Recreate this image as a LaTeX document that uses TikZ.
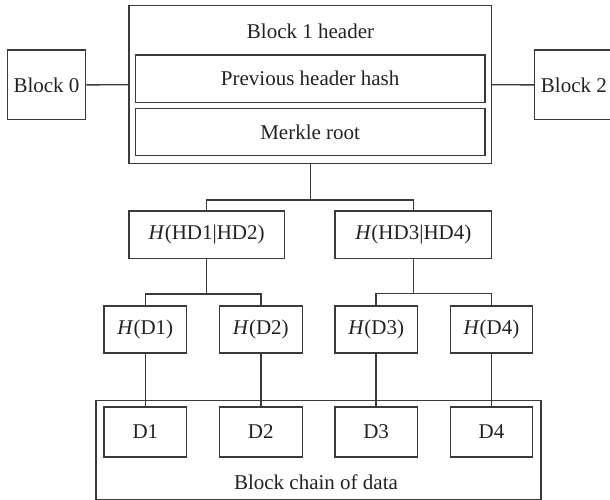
\documentclass[tikz,border=0pt]{standalone}
\usepackage{fontspec}
\setmainfont{Liberation Serif}
\definecolor{linegray}{HTML}{3A3A3A}
\definecolor{textgray}{HTML}{222222}
\begin{document}
\begin{tikzpicture}[x=1pt,y=-1pt,
  box/.style={draw=linegray, line width=1.4pt, rectangle, inner sep=0pt,
    text=textgray, font=\fontsize{21}{25}\selectfont},
  lbl/.style={inner sep=0pt, text=textgray, font=\fontsize{21}{25}\selectfont},
  wire/.style={draw=linegray, line width=1.4pt}]
\useasboundingbox (0,0) rectangle (610,500);

% block header with its two fields
\node[box, minimum width=362.5pt, minimum height=158pt] (b1) at (310.25,84.7) {};
\node[lbl] (b1t) at (310.5,31) {Block 1 header};
\node[box, minimum width=349.7pt, minimum height=47.3pt] (prev) at (310.15,78.65) {Previous header hash};
\node[box, minimum width=349.7pt, minimum height=47.4pt] (mr) at (310.15,132) {Merkle root};

% neighbouring blocks
\node[box, minimum width=78.4pt, minimum height=69.7pt] (b0) at (46.5,84.85) {Block 0};
\node[box, minimum width=78.4pt, minimum height=69.7pt] (b2) at (573.9,84.85) {Block 2};

% inner hash nodes
\node[box, minimum width=155.3pt, minimum height=47.5pt] (hd12) at (206.65,234.75) {\textit{H}(HD1|HD2)};
\node[box, minimum width=156.7pt, minimum height=47.5pt] (hd34) at (413.35,234.75) {\textit{H}(HD3|HD4)};

% leaf hashes
\node[box, minimum width=82.7pt, minimum height=47pt] (h1) at (145.35,329.5) {\textit{H}(D1)};
\node[box, minimum width=83pt, minimum height=47pt] (h2) at (260.8,329.5) {\textit{H}(D2)};
\node[box, minimum width=82.3pt, minimum height=47pt] (h3) at (376.15,329.5) {\textit{H}(D3)};
\node[box, minimum width=82.4pt, minimum height=47pt] (h4) at (491.5,329.5) {\textit{H}(D4)};

% data store
\node[box, minimum width=445pt, minimum height=98.6pt] (chain) at (318.5,450) {};
\node[lbl] (chaint) at (316,482.5) {Block chain of data};
\node[box, minimum width=82.7pt, minimum height=50pt] (d1) at (145.35,432) {D1};
\node[box, minimum width=83pt, minimum height=50pt] (d2) at (260.8,432) {D2};
\node[box, minimum width=82.3pt, minimum height=50pt] (d3) at (376.15,432) {D3};
\node[box, minimum width=82.4pt, minimum height=50pt] (d4) at (491.5,432) {D4};

% junction points of the tree
\coordinate (j0) at (b1.south |- 0,200);
\coordinate (j1) at (hd12.south |- 0,294);
\coordinate (j2) at (hd34.south |- 0,293.5);

% chain links
\draw[wire] (b0.east) -- (b1.west);
\draw[wire] (b1.east) -- (b2.west);

% tree edges
\draw[wire] (b1.south) -- (j0);
\draw[wire] (hd12.north) |- (j0) -| (hd34.north);
\draw[wire] (hd12.south) -- (j1);
\draw[wire] (h1.north) |- (j1) -| (h2.north);
\draw[wire] (hd34.south) -- (j2);
\draw[wire] (h3.north) |- (j2) -| (h4.north);
\draw[wire] (h1.south) -- (d1.north);
\draw[wire] (h2.south) -- (d2.north);
\draw[wire] (h3.south) -- (d3.north);
\draw[wire] (h4.south) -- (d4.north);
\end{tikzpicture}
\end{document}
